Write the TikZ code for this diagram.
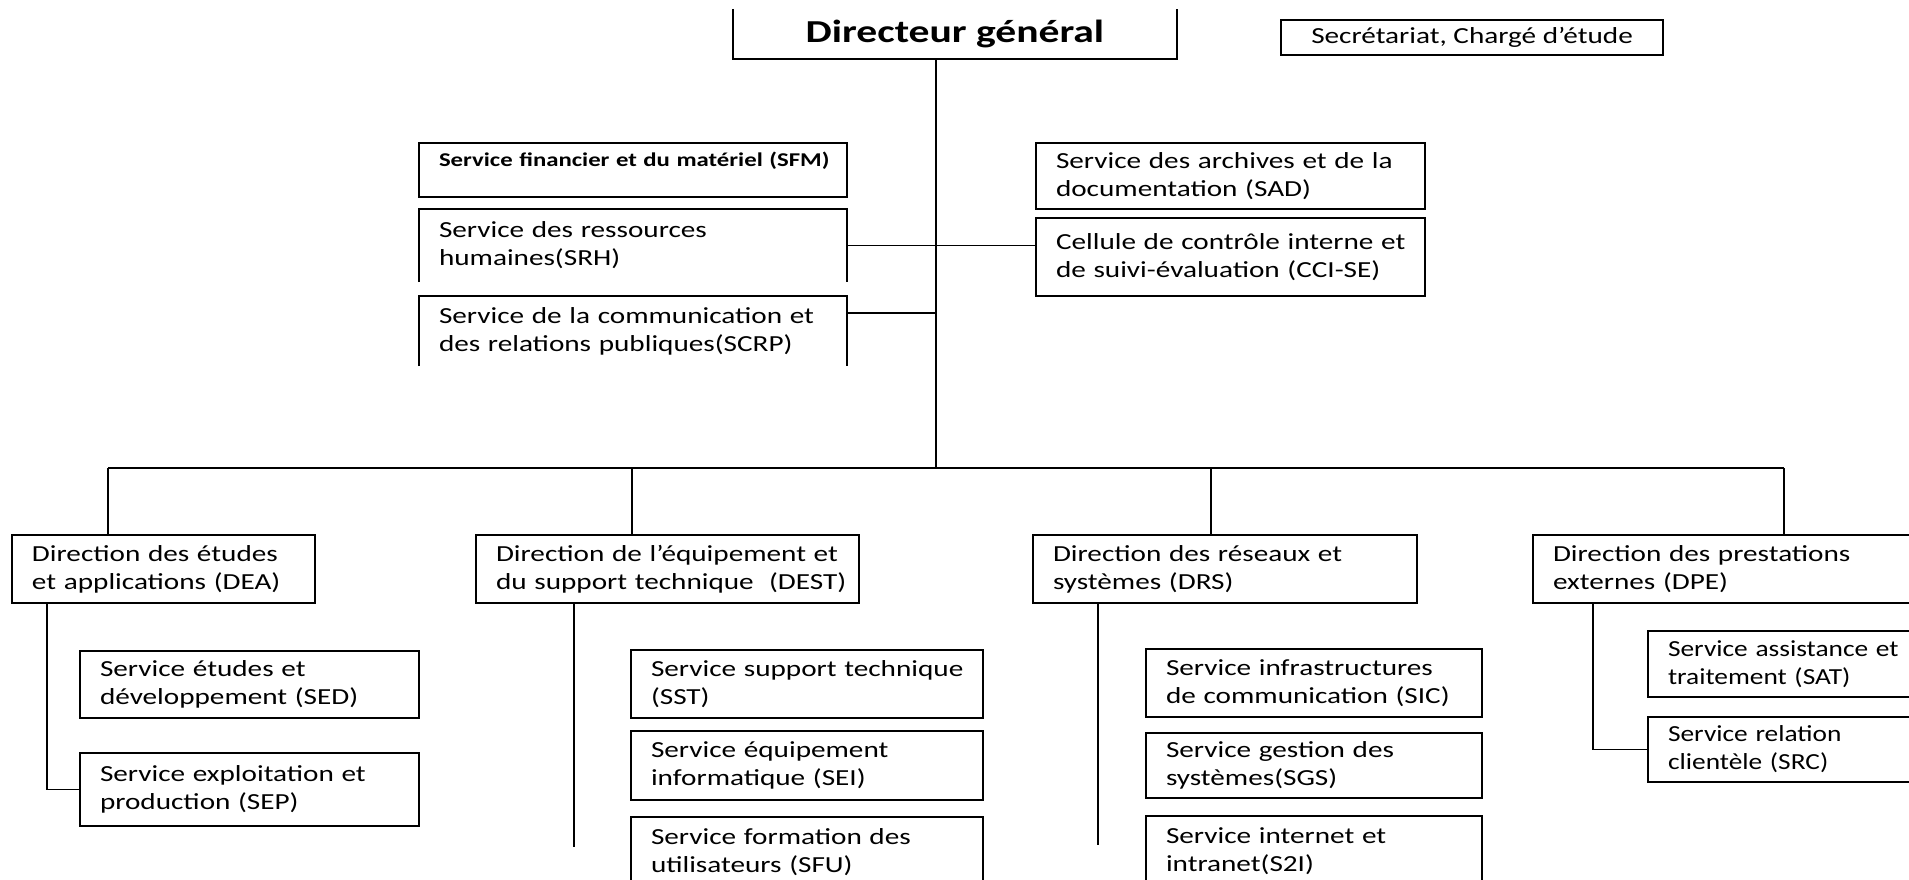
\documentclass[tikz,border=0pt]{standalone}
\usepackage{fontspec}
\setmainfont[FakeStretch=1.27]{Carlito}
\newfontfamily\headfont[FakeStretch=1.3]{Carlito}
\newfontfamily\tightfont[FakeStretch=1.19]{Carlito}

\tikzset{
  rule/.style={line width=1.5pt, draw=black},
  unit/.style={rule, anchor=north west, inner xsep=0pt, inner ysep=0pt, outer sep=0pt,
    font=\fontsize{23}{28}\selectfont,
    execute at begin node={\leftskip=20pt\rightskip=0pt plus 1fil\parfillskip=0pt plus 1fil}},
  bare/.style={unit, draw=none},
  head/.style={anchor=north west, inner sep=0pt, outer sep=0pt,
    minimum width=444pt, minimum height=50pt,
    font=\headfont\bfseries\fontsize{32}{38}\selectfont},
  aside/.style={rule, anchor=north west, inner sep=0pt, outer sep=0pt,
    minimum width=382pt, minimum height=35pt, font=\fontsize{23}{28}\selectfont},
}

\begin{document}
\begin{tikzpicture}[x=1pt, y=-1pt]
\path[fill=white, use as bounding box] (0,0) rectangle (1909,880);
\clip (0,0) rectangle (1909,880);

% --- top level
\node[head] (dg) at (733,9) {Directeur général};
\draw[rule] (dg.north west) -- (dg.south west) -- (dg.south east) -- (dg.north east);
\node[aside] (sec) at (1281,20) {Secrétariat, Chargé d’étude};

% --- staff services
\node[unit, text width=428pt, text height=23pt, text depth=31pt,
      font=\bfseries\fontsize{19.5}{24}\selectfont] (sfm) at (419,143)
  {Service financier et du matériel (SFM)};
\node[bare, text width=428pt, minimum height=73pt] (srh) at (419,209)
  {Service des ressources\\humaines(SRH)};
\node[bare, text width=428pt, minimum height=70pt] (scrp) at (419,296)
  {Service de la communication et\\des relations publiques(SCRP)};
\draw[rule] (srh.south west) -- (srh.north west) -- (srh.north east) -- (srh.south east);
\draw[rule] (scrp.south west) -- (scrp.north west) -- (scrp.north east) -- (scrp.south east);

\node[unit, text width=389pt, minimum height=66pt] (sad) at (1036,143)
  {Service des archives et de la\\documentation (SAD)};
\node[unit, text width=389pt, minimum height=78pt] (cci) at (1036,218)
  {Cellule de contrôle interne et\\de suivi-évaluation (CCI-SE)};

% --- directions
\node[unit, text width=303pt, minimum height=68pt] (dea) at (12,535)
  {Direction des études\\et applications (DEA)};
\node[unit, text width=383pt, minimum height=68pt] (dest) at (476,535)
  {Direction de l’équipement et\\du support technique~ (DEST)};
\node[unit, text width=384pt, minimum height=68pt] (drs) at (1033,535)
  {Direction des réseaux et\\systèmes (DRS)};
\node[unit, text width=420pt, minimum height=68pt] (dpe) at (1533,535)
  {Direction des prestations\\externes (DPE)};

% --- services of each direction
\node[unit, text width=339pt, minimum height=67pt] (sed) at (80,651)
  {Service études et\\développement (SED)};
\node[unit, text width=339pt, minimum height=73pt] (sep) at (80,753)
  {Service exploitation et\\production (SEP)};

\node[unit, text width=352pt, minimum height=68pt] (sst) at (631,650)
  {Service support technique\\(SST)};
\node[unit, text width=352pt, minimum height=69pt] (sei) at (631,731)
  {Service équipement\\informatique (SEI)};
\node[bare, text width=352pt, minimum height=70pt] (sfu) at (631,817)
  {Service formation des\\utilisateurs (SFU)};
\draw[rule] (sfu.south west) -- (sfu.north west) -- (sfu.north east) -- (sfu.south east);

\node[unit, text width=336pt, minimum height=68pt] (sic) at (1146,649)
  {Service infrastructures\\de communication (SIC)};
\node[unit, text width=336pt, minimum height=65pt] (sgs) at (1146,733)
  {Service gestion des\\systèmes(SGS)};
\node[bare, text width=336pt, minimum height=70pt] (s2i) at (1146,816)
  {Service internet et\\intranet(S2I)};
\draw[rule] (s2i.south west) -- (s2i.north west) -- (s2i.north east) -- (s2i.south east);

\node[unit, text width=300pt, minimum height=66pt,
      font=\tightfont\fontsize{23}{28}\selectfont] (sat) at (1648,631)
  {Service assistance et\\traitement (SAT)};
\node[unit, text width=300pt, minimum height=65pt,
      font=\tightfont\fontsize{23}{28}\selectfont] (src) at (1648,717)
  {Service relation\\clientèle (SRC)};

% --- connectors
\coordinate (trunk) at (936,468);
\coordinate (b1) at (108,468);
\coordinate (b2) at (632,468);
\coordinate (b3) at (1211,468);
\coordinate (b4) at (1784,468);
\draw[rule] (dg.south -| trunk) -- (trunk);
\draw[rule] (b1) -- (b4);
\draw[rule] (b1) -- (b1 |- dea.north);
\draw[rule] (b2) -- (b2 |- dest.north);
\draw[rule] (b3) -- (b3 |- drs.north);
\draw[rule] (b4) -- (b4 |- dpe.north);

\draw[rule] (srh.east) -- (srh.east -| cci.west);
\coordinate (tap) at (936,313);
\draw[rule] (tap -| scrp.east) -- (tap);

\coordinate (k1) at (47,0);
\draw[rule] (dea.south -| k1) |- (sep.west);
\coordinate (k2) at (574,847);
\draw[rule] (dest.south -| k2) -- (k2);
\coordinate (k3) at (1098,845);
\draw[rule] (drs.south -| k3) -- (k3);
\coordinate (k4) at (1593,0);
\draw[rule] (dpe.south -| k4) |- (src.west);
\end{tikzpicture}
\end{document}
